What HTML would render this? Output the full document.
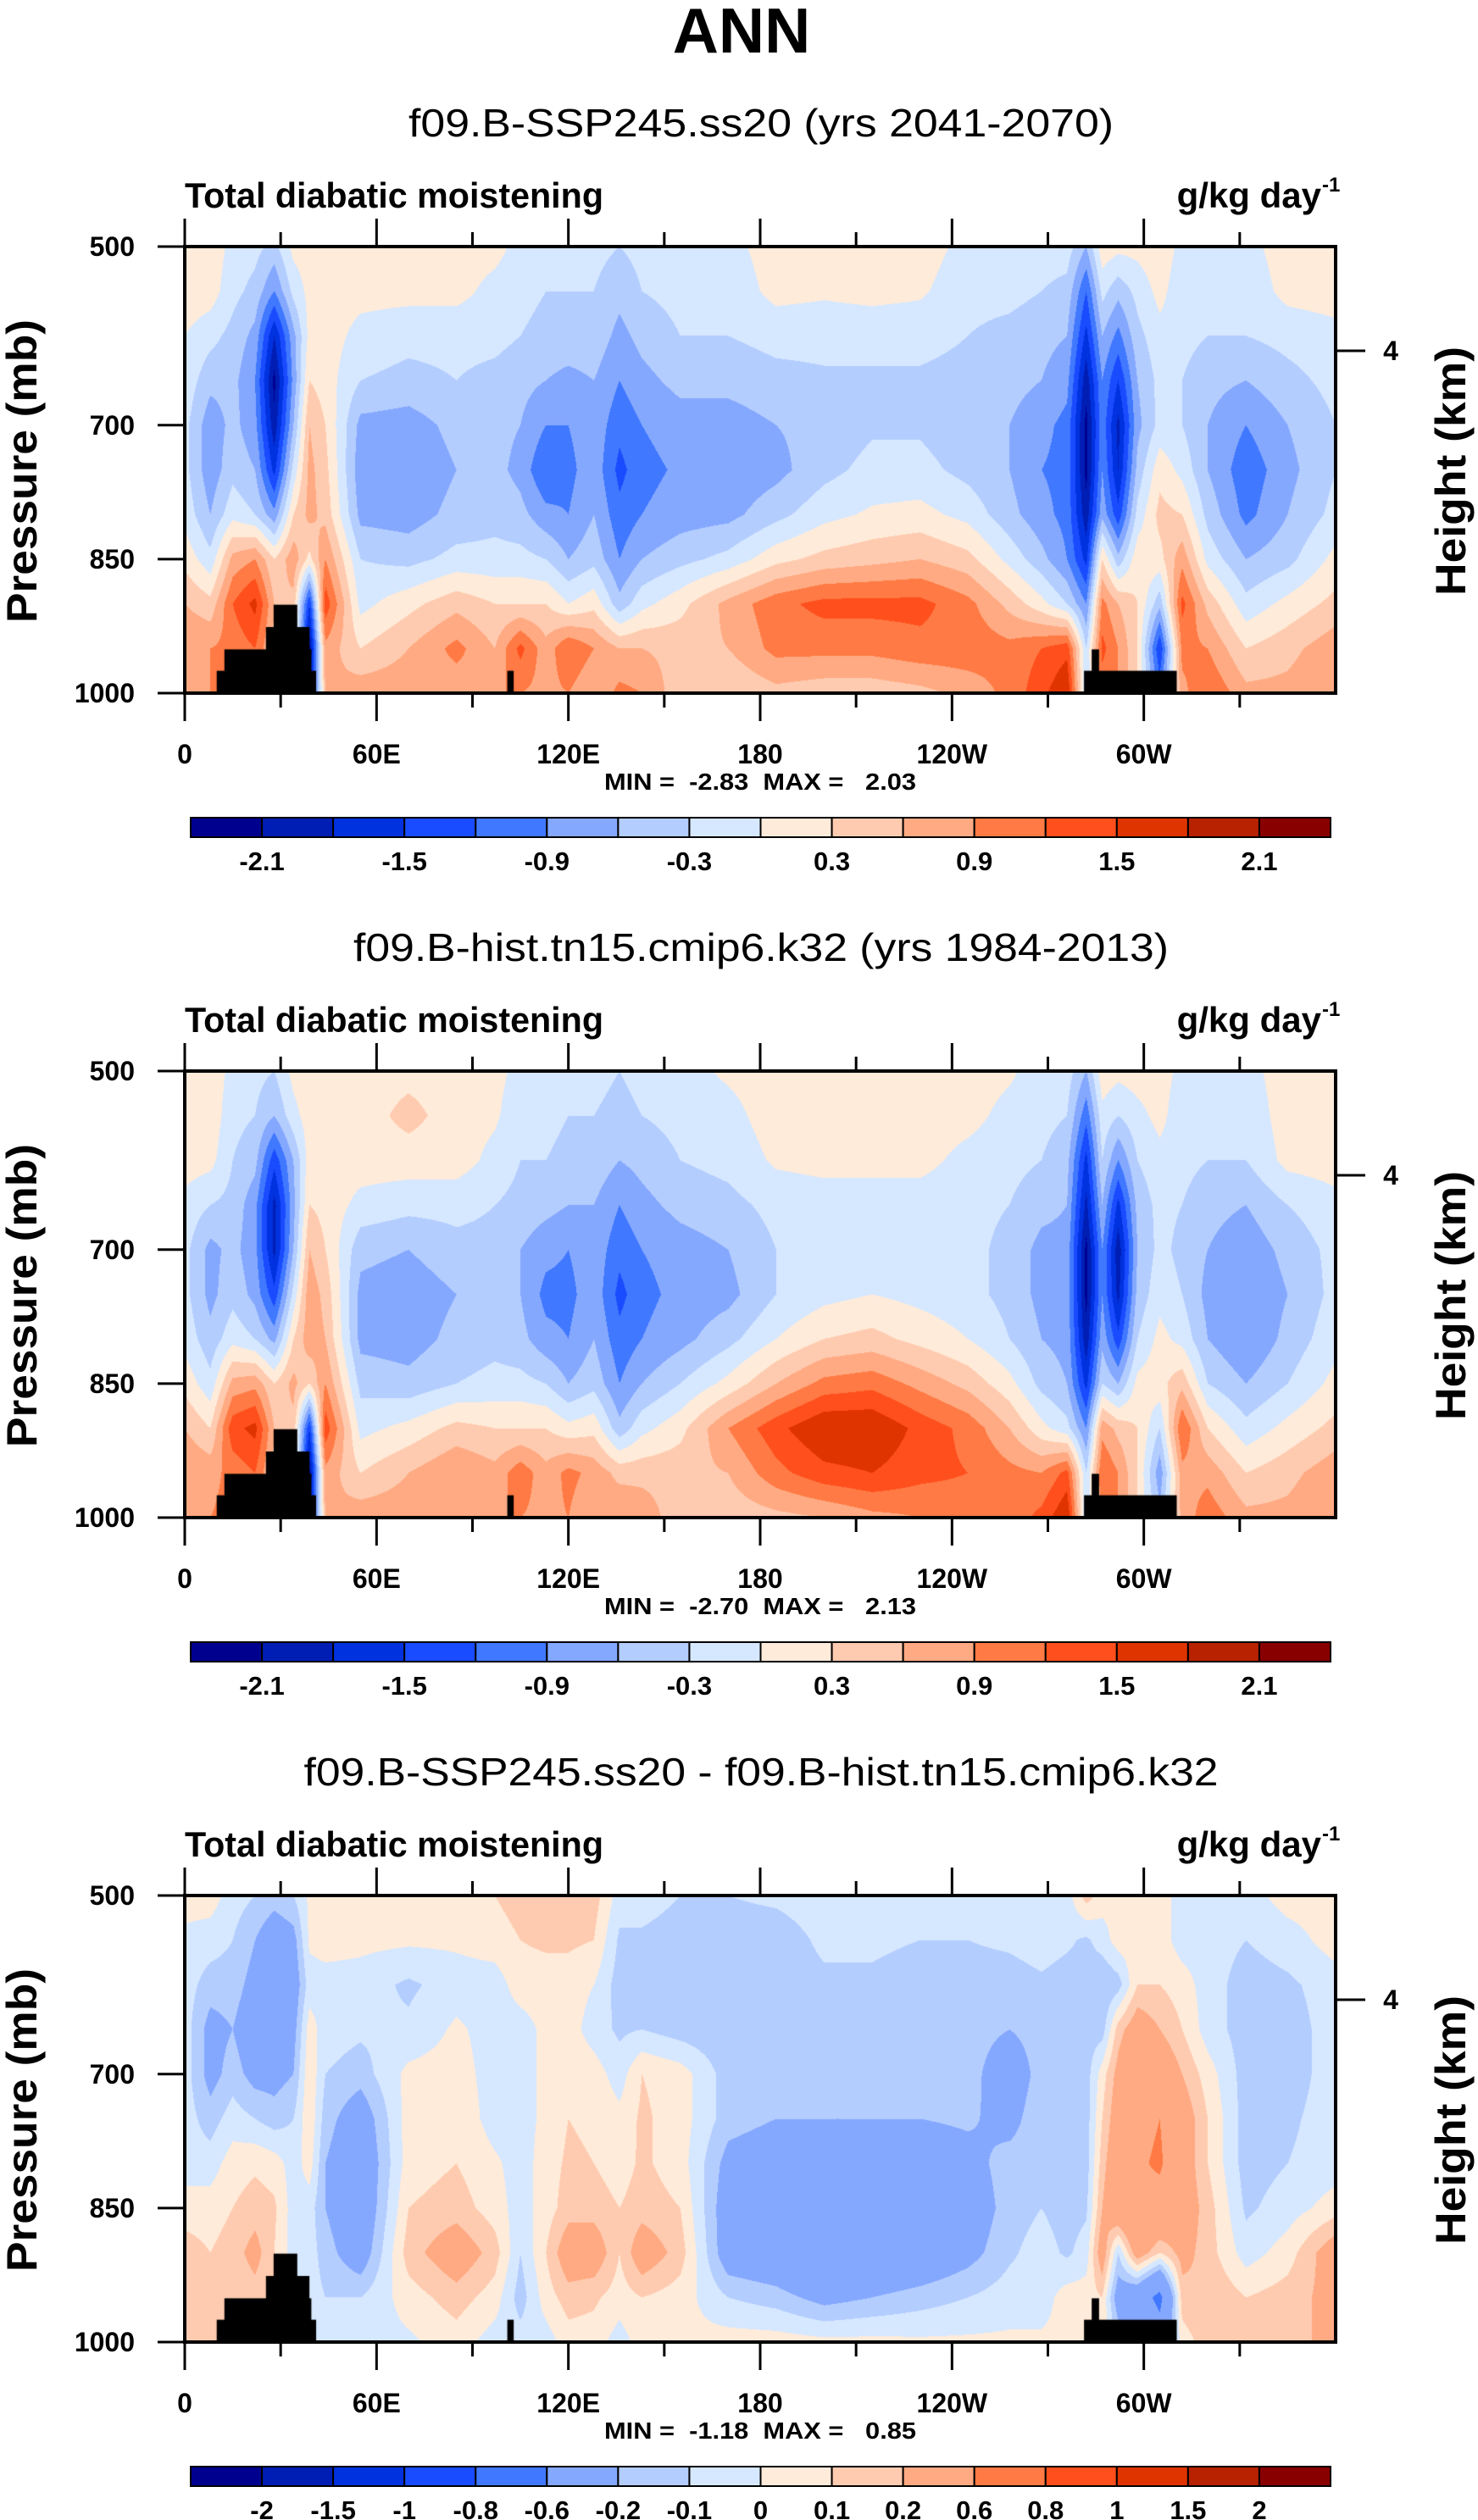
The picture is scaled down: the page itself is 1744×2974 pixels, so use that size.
<!DOCTYPE html>
<html><head><meta charset="utf-8"><title>ANN Total diabatic moistening</title>
<style>
html,body{margin:0;padding:0;background:#fff;}
#page{position:relative;width:1744px;height:2974px;overflow:hidden;background:#fff;}
canvas{position:absolute;}
svg{position:absolute;left:0;top:0;}
text{font-family:"Liberation Sans",sans-serif;fill:#000;}
</style></head>
<body>
<div id="page">
<canvas id="c0" width="1358" height="527" style="left:218px;top:291px"></canvas>
<canvas id="c1" width="1358" height="527" style="left:218px;top:1264px"></canvas>
<canvas id="c2" width="1358" height="527" style="left:218px;top:2237px"></canvas>
<svg id="ov" width="1744" height="2974" xmlns="http://www.w3.org/2000/svg">
<text x="875" y="62" font-size="75" font-weight="bold" text-anchor="middle">ANN</text>
</svg>
</div>
<script>
// ---- data ----
const lons=[0,8,15,22,28,34,39,44,55,70,85,97,105,113,120,128,136,143,155,170,185,200,215,230,245,258,268,276,282,287,292,298,305,312,320,332,345,360];
const pLevels=[500,550,600,650,700,750,800,850,900,950,1000];
const fillColors=["#00008f","#001eb4","#0032e0","#1a4cff","#4078ff","#85a8ff","#b4cdff","#d6e8ff","#ffebda","#ffcbb0","#ffaa82","#ff7a44","#ff4f1c","#e03400","#b82200","#880000"];
const levelsAbs=[-2.1,-1.8,-1.5,-1.2,-0.9,-0.6,-0.3,0,0.3,0.6,0.9,1.2,1.5,1.8,2.1];
const levelsDiff=[-2,-1.5,-1,-0.8,-0.6,-0.2,-0.1,0,0.1,0.2,0.6,0.8,1,1.5,2];
const labelsAbs=["-2.1","","-1.5","","-0.9","","-0.3","","0.3","","0.9","","1.5","","2.1"];
const labelsDiff=["-2","-1.5","-1","-0.8","-0.6","-0.2","-0.1","0","0.1","0.2","0.6","0.8","1","1.5","2"];
const lonTicks=[0,30,60,90,120,150,180,210,240,270,300,330];
const lonLabels=["0","","60E","","120E","","180","","120W","","60W",""];
const pTicks=[500,700,850,1000];
const topoLonStart=[10,12.4,25.4,27.8,100.9,281.3,283.7];
const topoLonEnd=[41.1,39.6,39,35.2,102.9,310.3,286];
const topoPTop=[975,951,926,901,975,975,951];
const titles=["f09.B-SSP245.ss20 (yrs 2041-2070)","f09.B-hist.tn15.cmip6.k32 (yrs 1984-2013)","f09.B-SSP245.ss20 - f09.B-hist.tn15.cmip6.k32"];
const minMax=["MIN =  -2.83  MAX =   2.03","MIN =  -2.70  MAX =   2.13","MIN =  -1.18  MAX =   0.85"];
// columns: value profile at pLevels for each lon
const p1Cols=[
[.2,.2,0,-.1,-.2,-.2,-.1,.2,.6,.9,.8],
[.2,.15,-.2,-.5,-.8,-.8,-.6,-.2,.4,.9,.9],
[-.1,-.2,-.4,-.5,-.5,-.4,-.1,.7,1.2,1.0,1.0],
[-.2,-.4,-.7,-.9,-.8,-.6,-.3,.9,1.6,1.2,1],
[-.4,-.9,-1.8,-2.2,-2.0,-1.6,-.8,.3,.6,.5,.5],
[.1,-.2,-.7,-.8,-.6,-.2,.3,.8,.5,.5,.5],
[.15,.1,.1,.3,.6,.7,.7,.2,-1.5,-2.2,-2],
[.15,.15,.15,.15,.3,.4,.5,.9,1.4,.8,.6],
[.15,.1,-.1,-.3,-.7,-.8,-.7,-.3,-.1,.3,.8],
[.15,.1,-.2,-.4,-.75,-.85,-.75,-.4,.2,.6,.8],
[.15,.1,-.2,-.3,-.5,-.6,-.5,-.2,.5,1.0,.7],
[.1,-.1,-.2,-.4,-.5,-.5,-.4,-.2,.3,.6,.9],
[-.1,-.2,-.3,-.5,-.6,-.7,-.5,-.2,.3,1.3,.9],
[-.2,-.3,-.4,-.6,-.9,-1.2,-.8,-.3,.3,.7,.8],
[-.2,-.3,-.4,-.7,-.9,-1.0,-.9,-.6,0,1.2,.9],
[-.2,-.3,-.4,-.6,-.7,-.7,-.6,-.4,.2,.9,.6],
[-.3,-.5,-.7,-.9,-1.1,-1.3,-1.1,-.9,-.5,.6,1.0],
[-.2,-.3,-.5,-.7,-.9,-1.0,-.9,-.6,-.1,.6,.9],
[-.1,-.2,-.3,-.5,-.75,-.85,-.75,-.4,.2,.5,.4],
[-.1,-.2,-.3,-.5,-.75,-.85,-.7,-.2,.7,.6,.3],
[.15,.1,-.2,-.4,-.6,-.7,-.4,.2,1.1,1.0,.5],
[.15,.05,-.2,-.35,-.5,-.4,-.1,.4,1.3,1.0,.4],
[.15,.1,-.2,-.35,-.35,-.2,.05,.5,1.3,1.0,.4],
[.15,.05,-.2,-.35,-.35,-.2,.1,.6,1.3,1.1,.5],
[-.1,-.2,-.3,-.4,-.5,-.4,-.1,.4,1.0,1.1,.7],
[-.1,-.2,-.4,-.5,-.6,-.6,-.5,-.1,.5,1.0,1.0],
[-.15,-.3,-.5,-.6,-.8,-.9,-.8,-.5,.1,1.2,1.4],
[-.15,-.4,-.6,-.8,-1.0,-1.0,-1.0,-.9,-.3,1.4,1.8],
[-.6,-1.2,-1.6,-2.0,-2.2,-2.2,-2.0,-1.6,-.9,-.3,-.3],
[.2,-.2,-.6,-.9,-1.0,-.9,-.7,.3,1.0,1.3,1],
[.1,-.5,-1.0,-1.5,-1.9,-1.8,-1.4,-.5,.6,.9,.9],
[.1,-.2,-.4,-.6,-.7,-.5,-.2,.2,.3,.3,.3],
[.2,.1,-.1,-.2,-.2,.2,.4,.2,-.5,-1.5,-1],
[-.1,-.2,-.2,-.3,-.3,-.1,.3,.8,1.3,1.0,.8],
[-.1,-.2,-.3,-.5,-.6,-.6,-.4,-.1,.5,.9,1.2],
[-.1,-.2,-.3,-.6,-.9,-1.1,-1.0,-.6,-.2,.3,.7],
[.15,.1,-.2,-.4,-.6,-.7,-.6,-.4,.1,.5,.7],
[.15,.15,-.1,-.2,-.3,-.3,-.2,.1,.4,.8,.9]];
const p2Cols=[
[.2,.2,.15,-.1,-.2,-.2,-.1,.2,.6,.9,.9],
[.2,.2,.1,-.3,-.7,-.7,-.5,-.2,.3,.8,.9],
[-.1,-.2,-.3,-.4,-.5,-.4,-.1,.7,1.4,1.0,1.0],
[-.2,-.3,-.5,-.8,-.8,-.7,-.3,.8,1.6,1.2,1],
[-.3,-.6,-1.4,-1.9,-1.9,-1.4,-.7,.3,.6,.5,.5],
[.1,-.1,-.6,-.7,-.6,-.2,.3,.7,.5,.5,.5],
[.15,.15,.15,.3,.6,.8,.8,.3,-1.5,-2.2,-2],
[.15,.15,.15,.2,.3,.5,.6,.9,1.4,.8,.6],
[.15,.15,.15,-.1,-.5,-.7,-.7,-.4,-.1,.3,.8],
[.2,.4,.15,-.2,-.6,-.8,-.75,-.5,.1,.6,.8],
[.15,.15,.15,-.2,-.4,-.6,-.5,-.3,.4,.9,.7],
[.1,.05,-.1,-.3,-.4,-.5,-.4,-.2,.3,.7,.9],
[-.1,-.2,-.3,-.4,-.6,-.6,-.5,-.2,.3,1.1,.9],
[-.2,-.2,-.3,-.5,-.8,-1.0,-.8,-.3,.3,.7,.8],
[-.2,-.3,-.4,-.6,-.9,-1.0,-.9,-.6,.1,1.0,.9],
[-.2,-.3,-.4,-.6,-.7,-.7,-.6,-.4,.2,.8,.6],
[-.3,-.4,-.6,-.9,-1.1,-1.3,-1.1,-.9,-.5,.5,.9],
[-.2,-.3,-.5,-.7,-.9,-1.0,-.9,-.6,-.1,.5,.8],
[-.1,-.2,-.3,-.5,-.75,-.8,-.7,-.3,.2,.5,.4],
[.05,-.1,-.2,-.4,-.6,-.7,-.4,.1,.9,.6,.4],
[.15,.15,.05,-.2,-.3,-.3,0,.6,1.4,1.1,.5],
[.15,.15,.1,-.15,-.15,-.1,.3,1.0,1.8,1.4,.6],
[.15,.15,.1,-.15,-.15,0,.4,1.1,1.8,1.5,.8],
[.15,.15,.1,-.15,-.15,-.1,.2,.8,1.4,1.3,.9],
[.15,.1,-.1,-.2,-.2,-.2,0,.5,1.1,1.2,1.0],
[.05,-.1,-.2,-.3,-.4,-.4,-.3,.1,.6,1.0,1.0],
[-.15,-.2,-.3,-.5,-.7,-.7,-.6,-.4,.1,.9,1.3],
[-.15,-.3,-.5,-.6,-.7,-.7,-.7,-.6,-.2,1.3,1.8],
[-.6,-1.1,-1.6,-1.9,-2.2,-2.2,-2.0,-1.6,-.9,-.3,-.3],
[.2,-.1,-.3,-.6,-.9,-.9,-.7,-.3,.8,1.2,1],
[.1,-.3,-.9,-1.6,-2.0,-1.9,-1.4,-.6,.5,.9,.9],
[.15,-.1,-.3,-.5,-.6,-.5,-.3,.1,.3,.3,.3],
[.15,.1,-.1,-.2,-.2,-.1,.1,.2,-.3,-.8,-.5],
[-.1,-.2,-.2,-.3,-.4,-.3,-.1,.5,1.2,.8,.7],
[-.1,-.2,-.3,-.5,-.6,-.7,-.6,-.3,.3,.8,1.1],
[-.1,-.2,-.3,-.6,-.8,-.9,-.9,-.6,-.2,.3,.7],
[.15,.15,.1,-.3,-.5,-.6,-.5,-.3,.1,.5,.7],
[.15,.15,.15,-.1,-.2,-.2,-.1,.1,.4,.8,.9]];
const p3Cols=[
[.05,-.03,-.05,-.05,-.05,-.05,-.05,.05,.15,.15,.1],
[.05,-.05,-.15,-.25,-.25,-.15,-.05,.05,.1,.15,.15],
[-.05,-.1,-.15,-.2,-.15,-.05,.05,.1,.15,.1,.1],
[-.1,-.2,-.25,-.3,-.25,-.1,.08,.15,.25,.15,.1],
[-.15,-.3,-.35,-.3,-.25,-.15,.05,.12,.1,.1,.1],
[-.1,-.25,-.3,-.25,-.2,-.1,-.05,-.05,-.05,0,0],
[.02,.02,-.05,.05,.08,.08,.05,-.05,-.05,-.05,-.05],
[.05,.05,-.05,-.05,-.1,-.15,-.2,-.2,-.15,-.1,-.05],
[.05,.03,-.05,-.08,-.15,-.3,-.35,-.35,-.3,-.1,-.05],
[.05,.02,-.12,-.08,.03,.05,.05,.1,.15,.05,-.02],
[.05,.02,-.05,.02,.05,.08,.1,.15,.3,.15,.05],
[.1,.05,-.05,-.05,-.05,-.05,.02,.05,.15,.05,-.05],
[.15,.1,.05,-.05,-.05,-.05,-.05,-.05,-.1,-.15,-.05],
[.15,.12,.05,.03,.03,.03,.05,.05,.1,.05,-.05],
[.15,.12,.05,.05,.08,.1,.12,.15,.3,.15,.05],
[.15,.1,0,-.05,.05,.08,.1,.15,.3,.12,.05],
[-.05,-.12,-.15,-.12,-.05,.03,.05,.1,.1,.05,-.05],
[-.05,-.12,-.12,-.1,.1,.12,.12,.15,.3,.1,.05],
[-.1,-.15,-.15,-.15,.05,.05,.05,.1,.15,.05,.02],
[-.1,-.15,-.18,-.18,-.15,-.15,-.25,-.3,-.3,-.1,.05],
[-.08,-.15,-.15,-.15,-.15,-.2,-.3,-.35,-.35,-.15,.05],
[-.05,-.08,-.12,-.15,-.15,-.2,-.35,-.4,-.5,-.25,.03],
[-.05,-.08,-.12,-.15,-.15,-.2,-.35,-.4,-.4,-.2,.03],
[-.05,-.1,-.15,-.15,-.15,-.2,-.3,-.35,-.35,-.15,.02],
[-.05,-.1,-.15,-.15,-.15,-.18,-.25,-.3,-.25,-.1,.02],
[-.05,-.08,-.15,-.2,-.3,-.25,-.15,-.15,-.12,-.05,.02],
[-.05,-.05,-.12,-.15,-.15,-.12,-.15,-.1,-.05,-.05,.02],
[-.05,-.08,-.15,-.15,-.15,-.15,-.15,-.15,-.12,.05,.03],
[.15,-.12,-.15,-.15,-.15,-.15,-.15,-.12,-.05,.05,.05],
[.05,-.05,-.2,-.15,.05,.1,.15,.2,.3,.1,.05],
[.02,.05,-.15,.15,.25,.3,.35,.4,-.1,-.3,-.1],
[0,.05,.1,.3,.4,.5,.55,.5,.3,-.4,-.2],
[.05,.05,.1,.2,.35,.6,.65,.45,.1,-.7,-.4],
[-.05,-.05,.05,.1,.2,.3,.3,.3,.25,.15,.05],
[-.05,-.05,-.05,-.05,.05,.1,.1,.15,.15,.2,.15],
[-.05,-.1,-.15,-.15,-.15,-.15,-.15,-.12,-.05,.1,.15],
[.05,-.05,-.12,-.15,-.15,-.12,-.1,-.05,.05,.15,.2],
[.05,.05,-.05,-.05,-.05,-.05,-.05,.05,.3,.25,.2]];

// ---- geometry ----
const PX0=218,PX1=1576,PY0=291,PY1=818;
const panelDy=[0,973,1946];
const CB0=225,CB1=1570,CBY=965,CBH=23;
function xOfLon(lon){return PX0+(lon/360)*(PX1-PX0);}
function yOfP(p,dy){return PY0+dy+((p-500)/500)*(PY1-PY0);}

function hexToRgb(h){return [parseInt(h.substr(1,2),16),parseInt(h.substr(3,2),16),parseInt(h.substr(5,2),16)];}
const rgbs=fillColors.map(hexToRgb);

function drawField(canvas,cols,levels){
  const ctx=canvas.getContext('2d');
  const W=canvas.width,H=canvas.height;
  const img=ctx.createImageData(W,H);
  const colIdx=[],colT=[];
  for(let x=0;x<W;x++){
    const lon=(x+0.5)/W*360;
    let j=0;while(j<lons.length-2&&lon>lons[j+1])j++;
    colIdx.push(j);colT.push((lon-lons[j])/(lons[j+1]-lons[j]));
  }
  for(let y=0;y<H;y++){
    const p=500+(y+0.5)/H*500;
    let i=Math.min(9,Math.floor((p-500)/50));
    const u=(p-pLevels[i])/50;
    for(let x=0;x<W;x++){
      const j=colIdx[x],t=colT[x];
      const a=cols[j][i]*(1-u)+cols[j][i+1]*u;
      const b=cols[j+1][i]*(1-u)+cols[j+1][i+1]*u;
      const v=a*(1-t)+b*t;
      let k=0;while(k<levels.length&&v>=levels[k])k++;
      const c=rgbs[k];const o=(y*W+x)*4;
      img.data[o]=c[0];img.data[o+1]=c[1];img.data[o+2]=c[2];img.data[o+3]=255;
    }
  }
  ctx.putImageData(img,0,0);
  ctx.fillStyle='#000';
  for(let n=0;n<topoLonStart.length;n++){
    const x0=topoLonStart[n]/360*W,x1=topoLonEnd[n]/360*W;
    const y0=(topoPTop[n]-500)/500*H;
    ctx.fillRect(x0,y0,x1-x0,H-y0);
  }
}
drawField(document.getElementById('c0'),p1Cols,levelsAbs);
drawField(document.getElementById('c1'),p2Cols,levelsAbs);
drawField(document.getElementById('c2'),p3Cols,levelsDiff);

// ---- overlay ----
const NS='http://www.w3.org/2000/svg';
const svg=document.getElementById('ov');
function mk(tag,attrs,parent){const e=document.createElementNS(NS,tag);for(const k in attrs)e.setAttribute(k,attrs[k]);(parent||svg).appendChild(e);return e;}

for(let pi=0;pi<3;pi++){
  const dy=panelDy[pi];
  const g=mk('g',{});
  
  
  const st=mk('text',{x:898,y:161+dy,'font-size':46,'text-anchor':'middle',textLength:[832,962,1079][pi],lengthAdjust:'spacingAndGlyphs'},g);
  
  
  st.textContent=titles[pi];
  const lt=mk('text',{x:218,y:245+dy,'font-size':42,'font-weight':'bold',textLength:494,lengthAdjust:'spacingAndGlyphs'},g);
  
  
  lt.textContent='Total diabatic moistening';
  const ut=mk('text',{x:1559,y:245+dy,'font-size':42,'font-weight':'bold','text-anchor':'end'},g);
  
  
  ut.textContent='g/kg day';
  const us=mk('text',{x:1560,y:226+dy,'font-size':24,'font-weight':'bold'},g);
  
  
  us.textContent='-1';
  // lon ticks
  for(let t=0;t<lonTicks.length;t++){
    const x=xOfLon(lonTicks[t]);const major=lonLabels[t]!==''||t===0;
    const len=major?33:17;
    const tb=mk('line',{x1:x,x2:x,y1:PY1+dy,y2:PY1+dy+len,stroke:'#000','stroke-width':3},g);
    
    
    const tt=mk('line',{x1:x,x2:x,y1:PY0+dy,y2:PY0+dy-len,stroke:'#000','stroke-width':3},g);
    
    
    if(lonLabels[t]){
      const tl=mk('text',{x:x,y:901+dy,'font-size':32,'font-weight':'bold','text-anchor':'middle'},g);
      
      
      tl.textContent=lonLabels[t];
    }
  }
  for(let t=0;t<pTicks.length;t++){
    const y=yOfP(pTicks[t],dy);
    const pl=mk('line',{x1:186,x2:PX0,y1:y,y2:y,stroke:'#000','stroke-width':3},g);
    
    
    const pt=mk('text',{x:159,y:y+11,'font-size':32,'font-weight':'bold','text-anchor':'end'},g);
    
    
    pt.textContent=String(pTicks[t]);
  }
  const hk=mk('line',{x1:PX1,x2:1611,y1:414+dy,y2:414+dy,stroke:'#000','stroke-width':3},g);
  
  
  const hl=mk('text',{x:1641,y:425+dy,'font-size':32,'font-weight':'bold','text-anchor':'middle'},g);
  
  
  hl.textContent='4';
  const bd=mk('rect',{x:PX0,y:PY0+dy,width:PX1-PX0,height:PY1-PY0,fill:'none',stroke:'#000','stroke-width':4},g);
  
  
  const ya=mk('text',{x:0,y:0,'font-size':50,'font-weight':'bold','text-anchor':'middle',textLength:358,lengthAdjust:'spacingAndGlyphs',transform:'translate(43,'+(556+dy)+') rotate(-90)'},g);
  
  
  ya.textContent='Pressure (mb)';
  const ha=mk('text',{x:0,y:0,'font-size':50,'font-weight':'bold','text-anchor':'middle',textLength:294,lengthAdjust:'spacingAndGlyphs',transform:'translate(1729,'+(556+dy)+') rotate(-90)'},g);
  
  
  ha.textContent='Height (km)';
  const mm=mk('text',{x:897,y:932+dy,'font-size':28,'font-weight':'bold','text-anchor':'middle',textLength:368,lengthAdjust:'spacingAndGlyphs','xml:space':'preserve'},g);
  
  
  mm.style.whiteSpace='pre';
  mm.textContent=minMax[pi];
  // colorbar
  const bw=(CB1-CB0)/fillColors.length;
  for(let k=0;k<fillColors.length;k++){
    const r=mk('rect',{x:CB0+k*bw,y:CBY+dy,width:bw,height:CBH,fill:fillColors[k],stroke:'#000','stroke-width':2},g);
    
    
  }
  const labs=pi<2?labelsAbs:labelsDiff;
  for(let k=0;k<labs.length;k++){
    if(!labs[k])continue;
    const cl=mk('text',{x:CB0+(k+1)*bw,y:1027+dy,'font-size':31,'font-weight':'bold','text-anchor':'middle'},g);
    
    
    cl.textContent=labs[k];
  }
}
</script>
</body></html>
